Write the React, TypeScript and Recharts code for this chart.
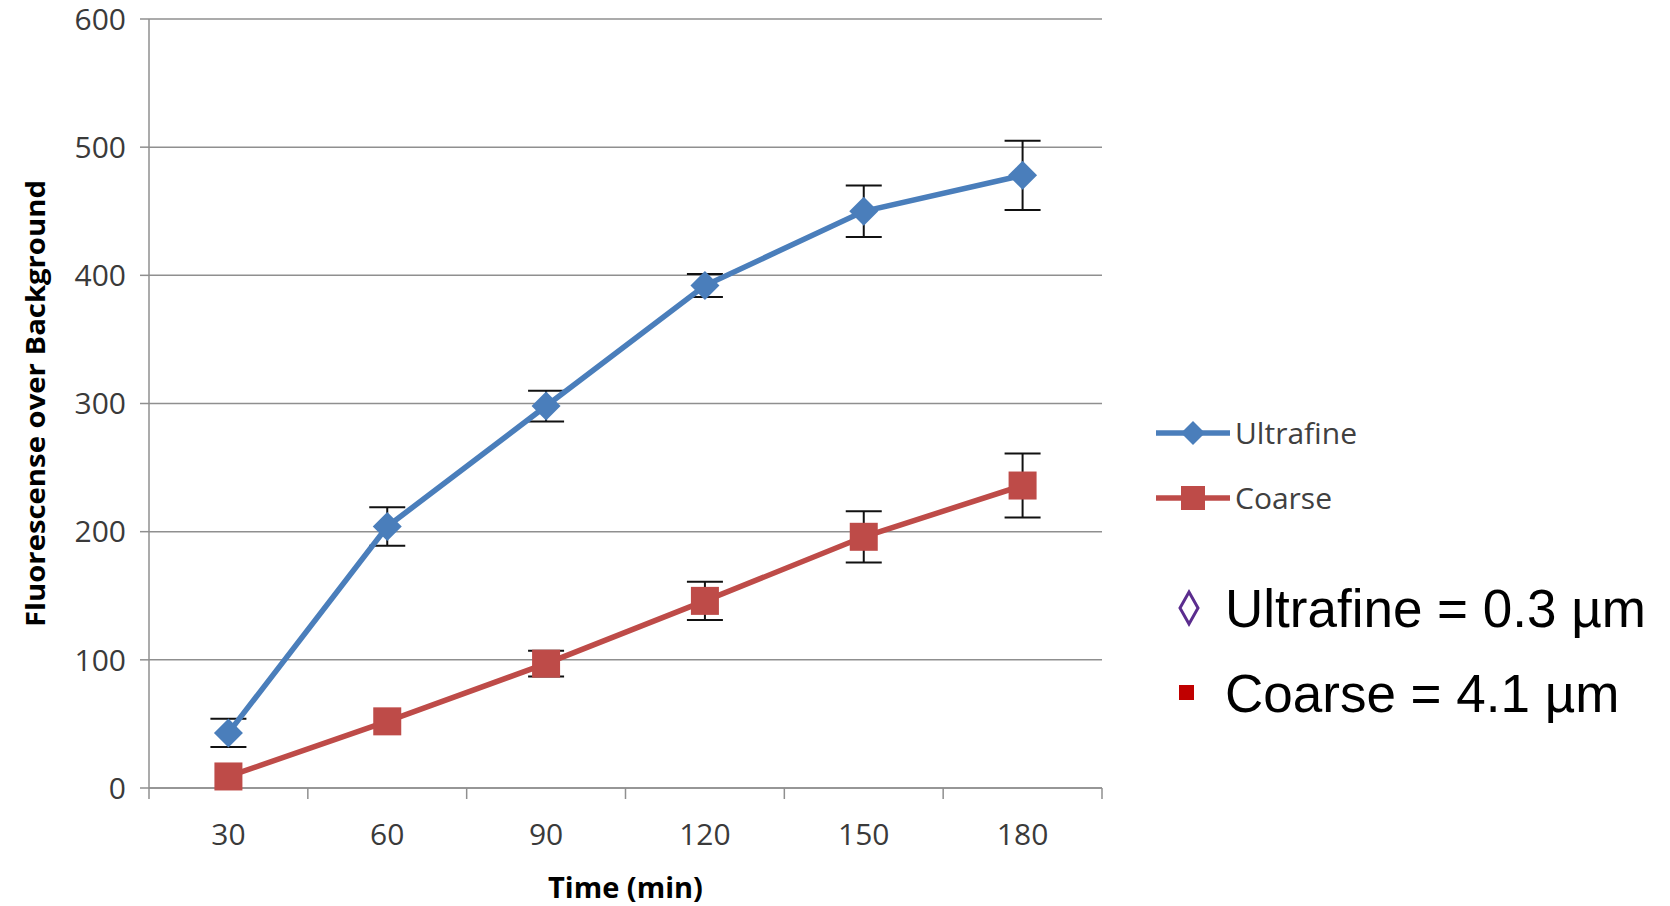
import React from 'react';
import { LineChart, Line, XAxis, YAxis, CartesianGrid, ErrorBar, Legend } from 'recharts';

const times = [30, 60, 90, 120, 150, 180];
const ultrafineValues = [43, 204, 298, 392, 450, 478];
const ultrafineErrors = [11, 15, 12, 9, 20, 27];
const coarseValues = [9, 52, 97, 146, 196, 236];
const coarseErrors = [null, null, 10, 15, 20, 25];
const yTicks = [0, 100, 200, 300, 400, 500, 600];
const xBoundaries = [15, 45, 75, 105, 135, 165, 195];
const seriesNames = ['Ultrafine', 'Coarse'];
const sizeNotes = ['Ultrafine = 0.3 µm', 'Coarse = 4.1 µm'];
const yTitle = 'Fluorescense over Background';
const xTitle = 'Time (min)';

const data = times.map((t, i) => ({
  t,
  ultrafine: ultrafineValues[i],
  uErr: ultrafineErrors[i],
  coarse: coarseValues[i],
  cErr: coarseErrors[i],
}));

const xTickValues = [...xBoundaries, ...times].sort((a, b) => a - b);

const BLUE = '#4a7ebb';
const RED = '#be4b48';
const AXIS = '#8f8f8f';
const TICK_TEXT = '#3a3a3a';
const FONT = '"Open Sans", sans-serif';

const XTick = (props: any) => {
  const { x, y, payload } = props;
  const v = payload.value;
  if (xBoundaries.includes(v)) {
    return <line x1={x} y1={y} x2={x} y2={y + 11} stroke={AXIS} strokeWidth={1.5} />;
  }
  return (
    <text x={x} y={y + 57} textAnchor="middle" fontFamily={FONT} fontSize={30} fill={TICK_TEXT}>
      {v}
    </text>
  );
};

const YTick = (props: any) => {
  const { x, y, payload } = props;
  return (
    <text x={x} y={y} dy="0.36em" textAnchor="end" fontFamily={FONT} fontSize={30} fill={TICK_TEXT}>
      {payload.value}
    </text>
  );
};

const Diamond = (props: any) => {
  const { cx, cy, index } = props;
  if (cx == null || cy == null) return <g key={`d${index}`} />;
  const r = 14.5;
  return (
    <polygon
      key={`d${index}`}
      points={`${cx},${cy - r} ${cx + r},${cy} ${cx},${cy + r} ${cx - r},${cy}`}
      fill={BLUE}
    />
  );
};

const Square = (props: any) => {
  const { cx, cy, index } = props;
  if (cx == null || cy == null) return <g key={`s${index}`} />;
  const h = 14;
  return <rect key={`s${index}`} x={cx - h} y={cy - h} width={2 * h} height={2 * h} fill={RED} />;
};

const YTitle = (props: any) => {
  const vb = props.viewBox || {};
  const cy = (vb.y ?? 19) + (vb.height ?? 769) / 2;
  return (
    <text
      x={34}
      y={cy}
      transform={`rotate(-90, 34, ${cy})`}
      textAnchor="middle"
      dominantBaseline="central"
      fontFamily={FONT}
      fontWeight={700}
      fontSize={27}
      textLength={447}
      lengthAdjust="spacingAndGlyphs"
      fill="#000"
    >
      {yTitle}
    </text>
  );
};

const XTitle = (props: any) => {
  const vb = props.viewBox || {};
  const cx = (vb.x ?? 149) + (vb.width ?? 953) / 2;
  return (
    <text
      x={cx}
      y={886}
      textAnchor="middle"
      dominantBaseline="central"
      fontFamily={FONT}
      fontWeight={700}
      fontSize={29}
      fill="#000"
    >
      {xTitle}
    </text>
  );
};

const LegendContent = (props: any) => {
  const { payload = [] } = props;
  const items = seriesNames
    .map((n) => payload.find((p: any) => p.value === n))
    .filter(Boolean);
  return (
    <div style={{ fontFamily: FONT, fontSize: 30, color: '#404040' }}>
      {items.map((entry: any, i: number) => {
        const color = entry.color;
        const isU = entry.dataKey === 'ultrafine';
        return (
          <div key={i} style={{ display: 'flex', alignItems: 'center', height: 65 }}>
            <svg width={74} height={30} style={{ display: 'block' }}>
              <line x1={0} y1={15} x2={74} y2={15} stroke={color} strokeWidth={5.5} />
              {isU ? (
                <polygon points="37,3 49,15 37,27 25,15" fill={color} />
              ) : (
                <rect x={25} y={3} width={24} height={24} fill={color} />
              )}
            </svg>
            <span style={{ marginLeft: 5, lineHeight: '30px' }}>{entry.value}</span>
          </div>
        );
      })}
    </div>
  );
};

export default function App() {
  return (
    <div style={{ position: 'absolute', left: 0, top: 0, width: 1670, height: 906, background: '#fff' }}>
      <LineChart
        width={1670}
        height={906}
        data={data}
        margin={{ top: 19, right: 568, bottom: 0, left: 0 }}
      >
        <CartesianGrid horizontal vertical={false} stroke={AXIS} strokeWidth={1.5} />
        <XAxis
          dataKey="t"
          type="number"
          domain={[15, 195]}
          ticks={xTickValues}
          interval={0}
          tick={<XTick />}
          tickLine={false}
          tickSize={0}
          tickMargin={0}
          height={118}
          axisLine={{ stroke: AXIS, strokeWidth: 1.5 }}
          label={<XTitle />}
        />
        <YAxis
          type="number"
          domain={[0, 600]}
          ticks={yTicks}
          interval={0}
          width={149}
          tick={<YTick />}
          tickSize={9}
          tickMargin={14}
          tickLine={{ stroke: AXIS, strokeWidth: 1.5 }}
          axisLine={{ stroke: AXIS, strokeWidth: 1.5 }}
          label={<YTitle />}
        />
        <Legend
          layout="vertical"
          align="center"
          verticalAlign="middle"
          content={<LegendContent />}
          wrapperStyle={{ left: 1156, top: 400, width: 300 }}
        />
        <Line
          dataKey="ultrafine"
          name={seriesNames[0]}
          type="linear"
          stroke={BLUE}
          strokeWidth={5.5}
          dot={false}
          activeDot={false}
          isAnimationActive={false}
        >
          <ErrorBar dataKey="uErr" width={18} strokeWidth={2} stroke="#111" direction="y" />
        </Line>
        <Line
          dataKey="coarse"
          name={seriesNames[1]}
          type="linear"
          stroke={RED}
          strokeWidth={5.5}
          dot={false}
          activeDot={false}
          isAnimationActive={false}
        >
          <ErrorBar dataKey="cErr" width={18} strokeWidth={2} stroke="#111" direction="y" />
        </Line>
        <Line
          dataKey="ultrafine"
          name="ultrafine-markers"
          legendType="none"
          type="linear"
          stroke="none"
          dot={Diamond}
          activeDot={false}
          isAnimationActive={false}
        />
        <Line
          dataKey="coarse"
          name="coarse-markers"
          legendType="none"
          type="linear"
          stroke="none"
          dot={Square}
          activeDot={false}
          isAnimationActive={false}
        />
      </LineChart>
      <svg
        width={1670}
        height={906}
        style={{ position: 'absolute', left: 0, top: 0, pointerEvents: 'none' }}
      >
        <polygon points="1189,592 1198,608 1189,624 1180,608" fill="none" stroke="#5b2d8e" strokeWidth={3} />
        <text x={1225} y={627} fontFamily='"Liberation Sans", Arial, sans-serif' fontSize={53} fill="#000">
          {sizeNotes[0]}
        </text>
        <rect x={1179} y={685} width={15} height={15} fill="#c00000" />
        <text x={1225} y={712} fontFamily='"Liberation Sans", Arial, sans-serif' fontSize={53} fill="#000">
          {sizeNotes[1]}
        </text>
      </svg>
    </div>
  );
}
